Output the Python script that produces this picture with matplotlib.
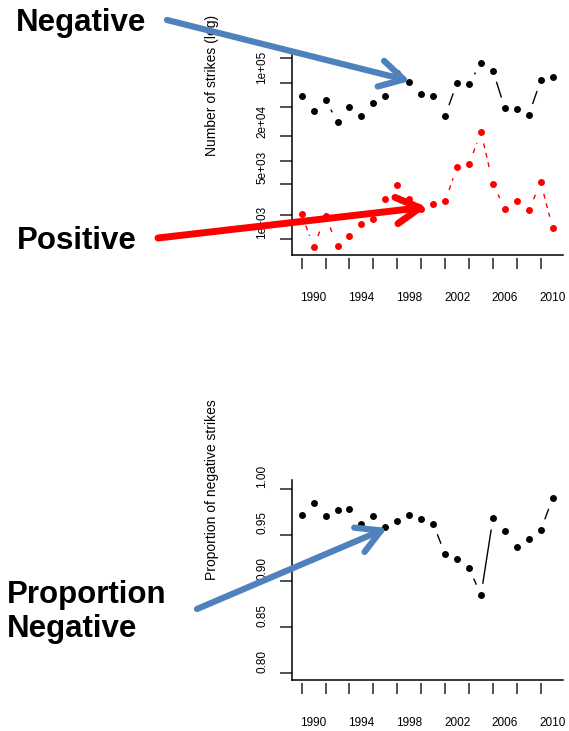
import numpy as np
import matplotlib
matplotlib.use('Agg')
import matplotlib.pyplot as plt
from matplotlib.patches import FancyArrowPatch
from matplotlib.ticker import NullLocator, NullFormatter
from matplotlib.transforms import ScaledTranslation

plt.rcParams['font.family'] = ['Liberation Sans', 'DejaVu Sans']

# lightning strikes per year
years = list(range(1989, 2011))
negative = [42300, 27300, 37900, 19300, 30200, 23500, 34000, 42600, 82800, 64600, 44400,
            42600, 23500, 62700, 59800, 113600, 88800, 29300, 28500, 24200, 67300, 75000]
positive = [1257, 472, 1186, 490, 659, 933, 1083, 1982, 3030, 2000, 1490,
            1722, 1849, 5130, 5560, 14600, 3120, 1472, 1849, 1416, 3250, 828]
proportion = [0.9718, 0.9842, 0.9701, 0.9766, 0.9783, 0.9621, 0.9704, 0.9582, 0.9647, 0.9718, 0.9675,
              0.9621, 0.9289, 0.9235, 0.9138, 0.8848, 0.9679, 0.9538, 0.9372, 0.9458, 0.9553, 0.9896]

count_ticks = [130700, 62200, 30500, 12900, 6120, 3090, 1231, 604]
count_labels = [1e3, 5e3, 2e4, 1e5]
count_label_text = ['1e+03', '5e+03', '2e+04', '1e+05']
prop_ticks = [0.80, 0.85, 0.90, 0.95, 1.00]
prop_label_text = ['0.80', '0.85', '0.90', '0.95', '1.00']
year_ticks = list(range(1989, 2010, 2))
year_labels = list(range(1990, 2011, 4))

W, H = 569, 731
fig = plt.figure(figsize=(W / 100, H / 100), dpi=100)


def px(x, y):
    return x / W, 1 - y / H


def make_axes(top, bottom):
    ax = fig.add_axes([292 / W, 1 - bottom / H, 271 / W, (bottom - top) / H])
    ax.set_xlim(1988.19, 2010.86)
    for s in ['top', 'right']:
        ax.spines[s].set_visible(False)
    ax.spines['left'].set_linewidth(1.1)
    ax.spines['bottom'].set_position(('outward', 2))
    ax.spines['bottom'].set_visible(False)
    ax.plot([0, 1], [0, 0], transform=ax.transAxes, color='black', lw=1.1, clip_on=False)
    ax.set_xticks(year_labels)
    ax.set_xticklabels([str(y) for y in year_labels])
    ax.set_xticks(year_ticks, minor=True)
    ax.tick_params(axis='x', which='minor', length=8, width=1.1, color='#222222')
    ax.tick_params(axis='x', which='major', length=0, pad=25, labelsize=8.5)
    return ax


def y_labels(ax, vals, texts):
    trans = ax.get_yaxis_transform() + ScaledTranslation(-0.235, 0, fig.dpi_scale_trans)
    for v, t in zip(vals, texts):
        ax.text(0, v, t, transform=trans, rotation=90, ha='right', va='center',
                fontsize=8.5, clip_on=False)


def b_segments(ax, x, y, color, ls, gap=12):
    # R type="b": lines between points, leaving a gap around each point
    pts = ax.transData.transform(np.column_stack([x, y]))
    inv = ax.transData.inverted()
    for p, q in zip(pts[:-1], pts[1:]):
        d = q - p
        L = np.hypot(*d)
        if L <= 2 * gap:
            continue
        u = d / L
        a = inv.transform(p + u * gap)
        b = inv.transform(q - u * gap)
        ax.plot([a[0], b[0]], [a[1], b[1]], color=color, ls=ls, lw=1)


# top: counts on log scale
ax1 = make_axes(55, 255)
ax1.set_yscale('log')
ax1.set_ylim(375, 142800)
ax1.set_yticks(count_ticks)
ax1.yaxis.set_minor_locator(NullLocator())
ax1.yaxis.set_major_formatter(NullFormatter())
ax1.tick_params(axis='y', length=8.6, width=1.1, color='#222222')
y_labels(ax1, count_labels, count_label_text)
ax1.plot(years, negative, 'o', color='black', ms=5, mec='none')
ax1.plot(years, positive, 'o', color='red', ms=5, mec='none')
b_segments(ax1, years, negative, 'black', '-')
b_segments(ax1, years, positive, 'red', (0, (3.5, 3.5)))

# bottom: proportion negative
ax2 = make_axes(480, 680)
ax2.set_ylim(0.7927, 1.0094)
ax2.set_yticks(prop_ticks)
ax2.yaxis.set_major_formatter(NullFormatter())
ax2.tick_params(axis='y', length=8.6, width=1.1, color='#222222')
y_labels(ax2, [v + 0.013 for v in prop_ticks], prop_label_text)
ax2.plot(years, proportion, 'o', color='black', ms=5, mec='none')
b_segments(ax2, years, proportion, 'black', '-')

fig.text(*px(211.7, 85), 'Number of strikes (log)', rotation=90, ha='center', va='center', fontsize=10)
fig.text(*px(211.7, 490), 'Proportion of negative strikes', rotation=90, ha='center', va='center', fontsize=10)

# annotations
fig.text(*px(16, 31.5), 'Negative', fontsize=22.5, fontweight='bold', ha='left', va='baseline')
fig.text(*px(17, 249), 'Positive', fontsize=22.5, fontweight='bold', ha='left', va='baseline')
fig.text(*px(7, 603), 'Proportion', fontsize=22.5, fontweight='bold', ha='left', va='baseline')
fig.text(*px(7, 637), 'Negative', fontsize=22.5, fontweight='bold', ha='left', va='baseline')


def arrow(start, end, color, lw):
    a = FancyArrowPatch(px(*start), px(*end), transform=fig.transFigure,
                        arrowstyle='->,head_length=17,head_width=9.5', mutation_scale=1,
                        lw=lw, color=color, shrinkA=0, shrinkB=0, zorder=10)
    fig.add_artist(a)


arrow((167, 20), (410, 81), '#4F81BD', 4.5)
arrow((158, 238), (427, 207), '#FF0000', 5)
arrow((197, 609), (387, 528), '#4F81BD', 4.5)

fig.savefig('out.png', dpi=100)
